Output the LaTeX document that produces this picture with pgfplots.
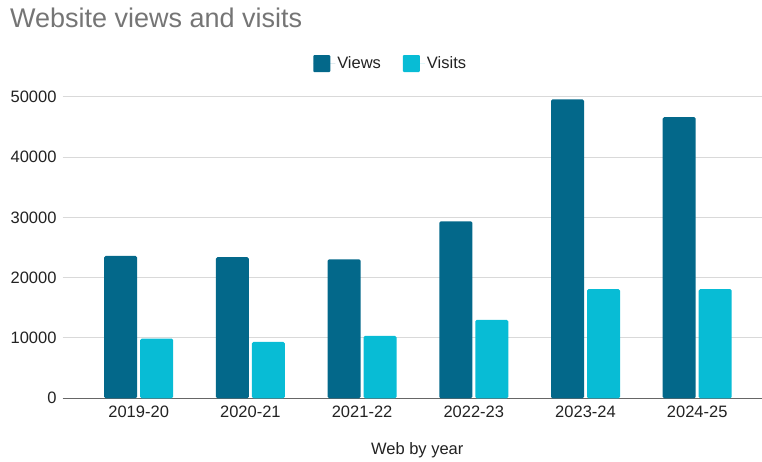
\documentclass[border=0pt]{standalone}
\usepackage{pgfplots}
\pgfplotsset{compat=1.18}
\usepackage{fontspec}
\setmainfont{Liberation Sans}
\definecolor{views}{HTML}{03688A}
\definecolor{visits}{HTML}{08BCD5}
\definecolor{gridc}{HTML}{D9D9D9}
\definecolor{titlegray}{HTML}{757575}
\definecolor{txt}{HTML}{222222}
\begin{document}
\begin{tikzpicture}
\useasboundingbox (0pt,0pt) rectangle (762pt,461pt);
\begin{axis}[
  at={(62.7pt,62.7pt)}, anchor=south west,
  scale only axis, width=699.3pt, height=301.6pt,
  ybar=3pt, bar width=33pt,
  xmin=-0.68, xmax=5.58, ymin=0, ymax=50000,
  xtick=data, xticklabels={2019-20,2020-21,2021-22,2022-23,2023-24,2024-25},
  ytick={0,10000,20000,30000,40000,50000},
  scaled y ticks=false,
  /pgf/number format/.cd, 1000 sep={}, assume math mode=true, /pgfplots/.cd,
  major tick length=0pt,
  axis line style={draw=none},
  ymajorgrids, grid style={gridc, line width=1pt},
  extra y ticks={0}, extra y tick labels={},
  extra y tick style={grid style={draw=black!60, line width=1pt}},
  ticklabel style={font=\fontsize{16.5}{16.5}\selectfont, text=txt},
  xticklabel style={anchor=base, yshift=-19pt},
  yticklabel style={anchor=east, inner sep=0pt, xshift=-6pt},
  xlabel={Web by year},
  xlabel style={at={(axis description cs:0.507,0)}, anchor=base, yshift=-56.5pt, font=\fontsize{16.5}{16.5}\selectfont, text=txt, inner sep=0pt},
  title={Website views and visits},
  title style={at={(axis description cs:-0.0754,1.211)}, anchor=base west, font=\fontsize{27}{27}\selectfont, text=titlegray, inner sep=0pt},
  legend columns=2,
  legend style={at={(axis description cs:0.469,1.11)}, anchor=center, draw=none, fill=none, font=\fontsize{16.5}{16.5}\selectfont, text=txt,
    /tikz/every even column/.append style={column sep=20pt}},
  legend image code/.code={\fill[#1, rounded corners=1pt] (0pt,-8.5pt) rectangle (17pt,8.5pt); \path (0pt,0pt) -- (22pt,0pt);},
]
\addplot[fill=views, draw=none, rounded corners=1.5pt] coordinates {(0,23600) (1,23400) (2,23050) (3,29350) (4,49550) (5,46600)};
\addplot[fill=visits, draw=none, rounded corners=1.5pt] coordinates {(0,9900) (1,9350) (2,10350) (3,13000) (4,18100) (5,18100)};
\legend{Views, Visits}
\end{axis}
\end{tikzpicture}
\end{document}
